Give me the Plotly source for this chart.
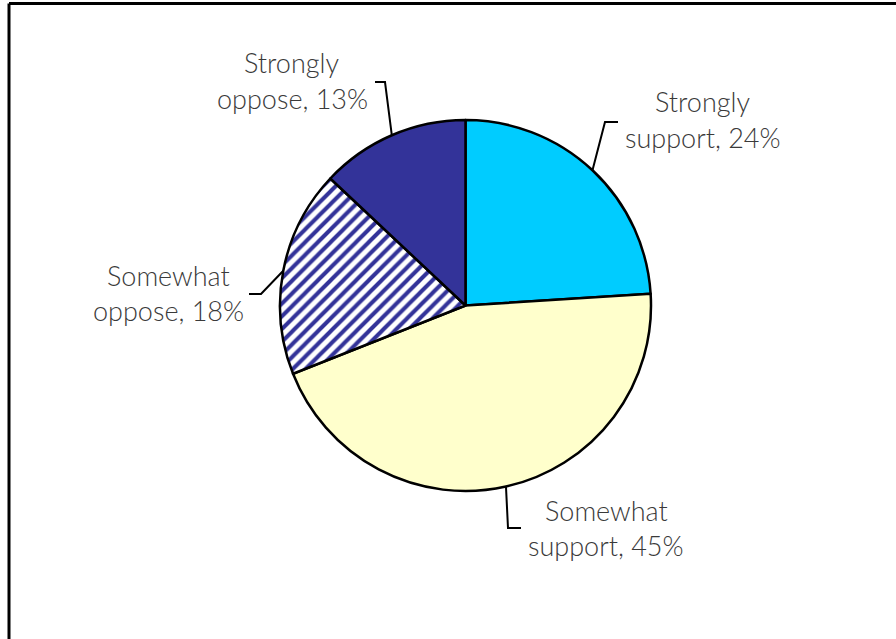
import math
import plotly.graph_objects as go

# Survey responses
labels = ["Strongly support", "Somewhat support", "Somewhat oppose", "Strongly oppose"]
values = [24, 45, 18, 13]
label_lines = [
    ["Strongly", "support, 24%"],
    ["Somewhat", "support, 45%"],
    ["Somewhat", "oppose, 18%"],
    ["Strongly", "oppose, 13%"],
]

W, H = 896, 639
CX, CY, R = 465.5, 305.5, 185.5

fill_colors = ["#00CCFF", "#FFFFCC", "#FFFFFF", "#333399"]
pattern_shapes = ["", "", "/", ""]

# label text centre (px) and leader elbow / end offsets per slice
label_pos = [(703, 102), (606, 510), (168, 275), (292, 63)]
elbows = [((605, 122), (618, 122)),
          ((508, 528), (521, 528)),
          ((261, 294), (249, 294)),
          ((385, 82), (375, 82))]

LINE_GAP = 35
FONT = dict(family="Lato", size=27, color="#3a3a3a", weight=300)


def px(x):
    return x / W


def py(y):
    return 1 - y / H


fig = go.Figure(go.Pie(
    labels=labels,
    values=values,
    sort=False,
    direction="clockwise",
    rotation=0,
    textinfo="none",
    hoverinfo="label+percent",
    showlegend=False,
    marker=dict(
        colors=fill_colors,
        line=dict(color="#000000", width=2.5),
        pattern=dict(shape=pattern_shapes, fgcolor="#333399", bgcolor="#FFFFFF",
                     size=9, solidity=0.45),
    ),
    domain=dict(x=[px(CX - R), px(CX + R)], y=[py(CY + R), py(CY - R)]),
))

shapes = [
    # chart frame
    dict(type="line", xref="paper", yref="paper", x0=px(9), x1=px(W + 5),
         y0=py(3.5), y1=py(3.5), line=dict(color="#000", width=3)),
    dict(type="line", xref="paper", yref="paper", x0=px(9), x1=px(9),
         y0=py(3.5), y1=py(H + 5), line=dict(color="#000", width=3)),
]

annotations = []
total = sum(values)
cum = 0
for i, v in enumerate(values):
    mid = (cum + v / 2) / total * 2 * math.pi
    cum += v
    ex = CX + R * math.sin(mid)
    ey = CY - R * math.cos(mid)
    (bx, by), (tx, ty) = elbows[i]
    path = f"M {px(ex)},{py(ey)} L {px(bx)},{py(by)} L {px(tx)},{py(ty)}"
    shapes.append(dict(type="path", xref="paper", yref="paper", path=path,
                       line=dict(color="#000", width=2)))
    lx, ly = label_pos[i]
    for k, line in enumerate(label_lines[i]):
        annotations.append(dict(
            text=line, x=px(lx), y=py(ly + k * LINE_GAP), xref="paper", yref="paper",
            xanchor="center", yanchor="middle", showarrow=False, font=FONT,
        ))

fig.update_layout(
    width=W, height=H,
    margin=dict(l=0, r=0, t=0, b=0),
    paper_bgcolor="#FFFFFF",
    plot_bgcolor="#FFFFFF",
    shapes=shapes,
    annotations=annotations,
)

fig.write_html("out.html")
